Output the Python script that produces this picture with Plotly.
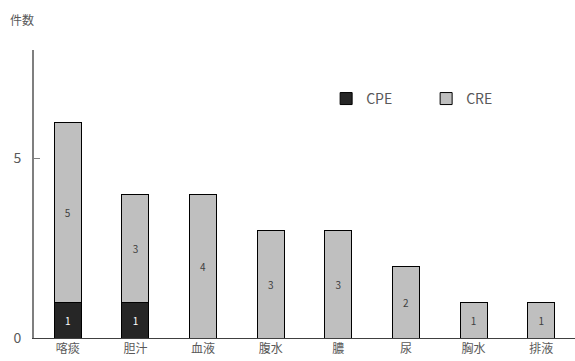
import plotly.graph_objects as go

categories = ["喀痰", "胆汁", "血液", "腹水", "膿", "尿", "胸水", "排液"]
cpe_counts = [1, 1, 0, 0, 0, 0, 0, 0]
cre_counts = [5, 3, 4, 3, 3, 2, 1, 1]
y_ticks = [0, 5]

font_family = "Noto Sans CJK JP, Noto Sans, sans-serif"
text_grey = "#595959"

fig = go.Figure()
fig.add_trace(go.Bar(
    name="CPE", x=categories, y=cpe_counts,
    marker=dict(color="#262626", line=dict(color="#000000", width=1)),
    text=[str(v) if v else "" for v in cpe_counts],
    textposition="inside", insidetextanchor="middle",
    textfont=dict(color="#ffffff", size=10, family=font_family),
))
fig.add_trace(go.Bar(
    name="CRE", x=categories, y=cre_counts,
    marker=dict(color="#bfbfbf", line=dict(color="#000000", width=1)),
    text=[str(v) if v else "" for v in cre_counts],
    textposition="inside", insidetextanchor="middle",
    textfont=dict(color="#404040", size=10, family=font_family),
))

fig.update_layout(
    barmode="stack",
    bargap=0.6,
    width=575, height=361,
    margin=dict(l=34, r=0, t=50, b=23, autoexpand=False),
    paper_bgcolor="#ffffff", plot_bgcolor="#ffffff",
    font=dict(family=font_family, color=text_grey, size=12),
    showlegend=True,
    legend=dict(
        orientation="h", x=0.54, y=0.83, xanchor="left", yanchor="middle",
        font=dict(size=14, color=text_grey), itemwidth=30,
        traceorder="normal", entrywidth=55, bgcolor="rgba(0,0,0,0)",
    ),
    annotations=[dict(
        text="件数", xref="paper", yref="paper", x=-0.048, y=1.07,
        xanchor="left", yanchor="bottom", showarrow=False,
        font=dict(size=12, color=text_grey),
    )],
)
fig.update_xaxes(
    showline=True, linecolor="#404040", linewidth=1,
    ticks="", tickfont=dict(size=12, color=text_grey),
    showgrid=False,
)
fig.update_yaxes(
    range=[0, 8], tickvals=y_ticks, ticks="inside", ticklen=6,
    tickcolor="#7f7f7f", showline=True, linecolor="#7f7f7f", linewidth=2,
    showgrid=False, zeroline=False, tickfont=dict(size=14, color=text_grey),
    ticklabelstandoff=8,
)

fig.write_html("out.html")
